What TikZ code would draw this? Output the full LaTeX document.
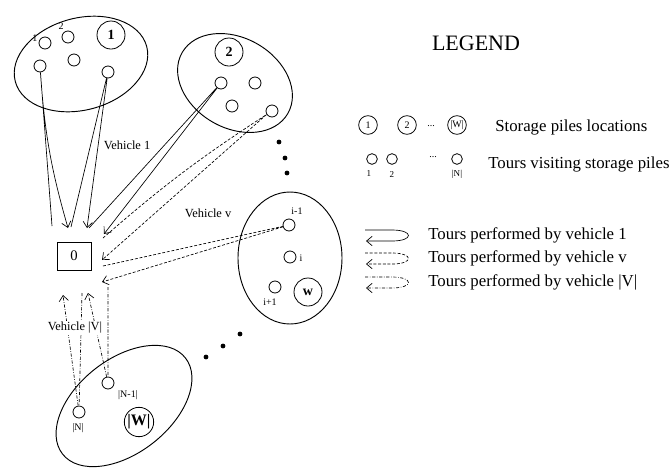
\documentclass[tikz,border=0pt]{standalone}
\usepackage{fontspec}
\setmainfont{Liberation Serif}
\usepackage{tikz}
\usetikzlibrary{arrows.meta}

\begin{document}
\begin{tikzpicture}[x=0.75pt,y=0.75pt,yscale=-1,xscale=1,
  pile/.style={draw, circle, line width=0.6pt, minimum size=21pt, inner sep=0pt, font=\fontsize{10.5}{11}\selectfont\bfseries},
  legpile/.style={draw, circle, line width=0.6pt, minimum size=14pt, inner sep=0pt, font=\fontsize{7.5}{8}\selectfont},
  visit/.style={draw, circle, line width=0.6pt, minimum size=9pt, inner sep=0pt},
  tag/.style={inner sep=0pt, font=\fontsize{7.5}{8}\selectfont},
  vlabel/.style={inner sep=1pt, font=\fontsize{9.3}{10}\selectfont},
  legtext/.style={anchor=west, inner sep=0pt, font=\fontsize{12.6}{14}\selectfont},
  group/.style={line width=0.7pt},
  tourone/.style={-{Straight Barb[length=4.2pt,width=7pt]}, line width=0.5pt},
  tourv/.style={tourone, dash pattern=on 2.2pt off 1.3pt},
  tourV/.style={tourone, dash pattern=on 2.4pt off 1.2pt on 0.5pt off 1.2pt},
  bullet/.style={circle, fill, inner sep=0pt, minimum size=3.6pt}]
\useasboundingbox (0,0) rectangle (669,469);

%Shape: Ellipse
\draw [group, rotate around={-15:(81,64)}] (81,64) ellipse (68 and 46);
%Shape: Ellipse
\draw [group, rotate around={30:(235,83)}] (235,83) ellipse (61 and 45);
%Shape: Ellipse
\draw [group] (290,258) ellipse (52 and 66);
%Shape: Ellipse
\draw [group, rotate around={-38:(124,406)}] (124,406) ellipse (78 and 47);

%Storage piles and visited points
\draw (111,35) node [pile] (w1) {1};
\draw (45,43) node [visit] (a1) {};
\draw (68,37) node [visit] (a2) {};
\draw (74,60) node [visit] (a3) {};
\draw (40,66) node [visit] (a4) {};
\draw (108,72) node [visit] (a5) {};
\draw (35,38) node [tag] (ta1) {1};
\draw (61,26) node [tag] (ta2) {2};

\draw (229,52) node [pile] (w2) {2};
\draw (221,83) node [visit] (b1) {};
\draw (255,83) node [visit] (b2) {};
\draw (232,106) node [visit] (b3) {};
\draw (272,111) node [visit] (b4) {};

\draw (308,292) node [pile] (ww) {w};
\draw (289,225) node [visit] (c1) {};
\draw (290,257) node [visit] (c2) {};
\draw (275,287) node [visit] (c3) {};
\draw (297,211) node [tag] (tc1) {i-1};
\draw (301,258) node [tag] (tc2) {i};
\draw (270,302) node [tag] (tc3) {i+1};

\draw (139,422) node [pile, minimum size=22pt, font=\fontsize{12}{13}\selectfont\bfseries] (wn) {|W|};
\draw (108,383) node [visit] (d1) {};
\draw (79,412) node [visit] (d2) {};
\draw (128,395) node [tag] (td1) {|N-1|};
\draw (78,428) node [tag] (td2) {|N|};

%Depot
\draw (74,256) node [draw, line width=0.6pt, minimum width=25.5pt, minimum height=21pt, font=\fontsize{11}{12}\selectfont] (depot) {0};

%Dots
\draw (279,142) node [bullet] (p1) {};
\draw (285,158) node [bullet] (p2) {};
\draw (287,173) node [bullet] (p3) {};
\draw (240,334) node [bullet] (p4) {};
\draw (223,346) node [bullet] (p5) {};
\draw (206,357) node [bullet] (p6) {};

%Tour ends at the depot
\coordinate (s1) at (52,226);
\coordinate (e1) at (68,228);
\coordinate (s2) at (71,227);
\coordinate (e2) at (87,228);
\coordinate (s3) at (89,228);
\coordinate (e3) at (104,234);
\coordinate (s4) at (103,238);
\coordinate (e4) at (102,260);
\coordinate (s5) at (103,266);
\coordinate (e5) at (102,282);
\coordinate (s6) at (108,287);
\coordinate (e6) at (88,293);
\coordinate (s7) at (82,293);
\coordinate (e7) at (63,295);

%Vehicle 1
\draw [tourone] (s1) -- (a4) to [bend left=6] (e1);
\draw [tourone] (s2) -- (a5) -- (e2);
\draw [tourone] (s3) -- (b1) -- (e3);
%Vehicle v
\draw [tourv] (s4) to [bend right=4] (b4) -- (e4);
\draw [tourv] (s5) -- (c1) -- (e5);
%Vehicle |V|
\draw [tourV] (s6) -- (d1) -- (e6);
\draw [tourV] (s7) -- (d2) -- (e7);

% Text Node
\draw (127,145) node [vlabel] (lv1) {Vehicle 1};
% Text Node
\draw (208,213) node [vlabel] (lvv) {Vehicle v};
% Text Node
\draw (75,328) node [vlabel, fill=white] (lvV) {Vehicle |V|};

%Legend
\draw (476,43) node [font=\fontsize{16.5}{18}\selectfont] (leg) {LEGEND};
\draw (368,125) node [legpile] (l1) {1};
\draw (407,125) node [legpile] (l2) {2};
\draw (431,126) node [tag] (ldots1) {...};
\draw (457,125) node [legpile] (lw) {|W|};
\draw (495,127) node [legtext] (lt1) {Storage piles locations};

\draw (372,159) node [visit, minimum size=8pt] (lv1c) {};
\draw (392,159) node [visit, minimum size=8pt] (lv2c) {};
\draw (433,157) node [tag] (ldots2) {...};
\draw (457,159) node [visit, minimum size=8pt] (lvnc) {};
\draw (369,174) node [tag, font=\fontsize{6.8}{7}\selectfont] (ln1) {1};
\draw (392,174) node [tag, font=\fontsize{6.8}{7}\selectfont] (ln2) {2};
\draw (457,174) node [tag, font=\fontsize{6.8}{7}\selectfont] (lnn) {|N|};
\draw (488,164) node [legtext] (lt2) {Tours visiting storage piles};

%Shape: loops
\draw [tourone] (365,230) -- (392,230) .. controls (414,230) and (414,241) .. (392,241) -- (366,241);
\draw [tourv] (365,253) -- (392,253) .. controls (414,253) and (414,264) .. (392,264) -- (366,264);
\draw [tourV] (365,277) -- (392,277) .. controls (414,277) and (414,288) .. (392,288) -- (366,288);
\draw (428,235) node [legtext] (lt3) {Tours performed by vehicle 1};
\draw (428,258) node [legtext] (lt4) {Tours performed by vehicle v};
\draw (428,282) node [legtext] (lt5) {Tours performed by vehicle |V|};

\end{tikzpicture}
\end{document}
